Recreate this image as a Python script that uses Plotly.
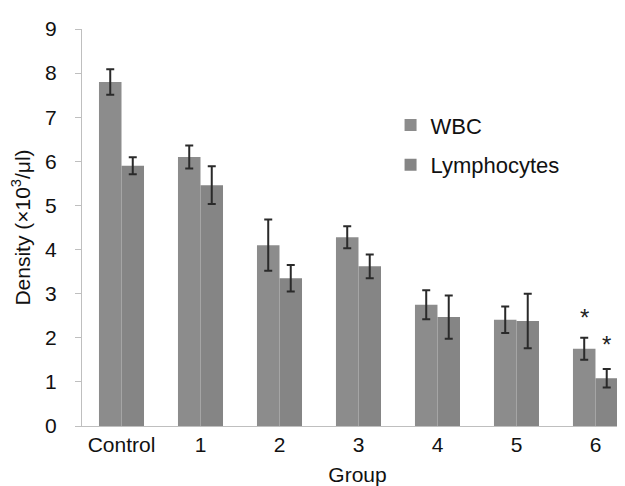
import plotly.graph_objects as go

groups = ["Control", "1", "2", "3", "4", "5", "6"]
wbc = [7.80, 6.10, 4.10, 4.28, 2.75, 2.41, 1.75]
wbc_err = [0.29, 0.26, 0.58, 0.25, 0.33, 0.30, 0.25]
lym = [5.90, 5.46, 3.35, 3.62, 2.47, 2.38, 1.08]
lym_err = [0.19, 0.43, 0.30, 0.27, 0.49, 0.62, 0.21]
y_ticks = [0, 1, 2, 3, 4, 5, 6, 7, 8, 9]

FONT = "Liberation Sans, Arial, sans-serif"

fig = go.Figure()
fig.add_trace(go.Bar(
    x=groups, y=wbc, name="WBC", legendgroup="a",
    marker=dict(color="#8c8c8c", line=dict(width=0)),
    error_y=dict(type="data", array=wbc_err, color="#2a2a2a", thickness=2, width=4),
))
fig.add_trace(go.Bar(
    x=groups, y=lym, name="Lymphocytes", legendgroup="b",
    marker=dict(color="#858585", line=dict(width=0)),
    error_y=dict(type="data", array=lym_err, color="#2a2a2a", thickness=2, width=4),
))

# significance asterisks for group 6
fig.add_annotation(x="6", y=wbc[6] + wbc_err[6], xshift=-11, yshift=5,
                   text="*", showarrow=False, yanchor="bottom",
                   font=dict(size=24, color="#222", family=FONT))
fig.add_annotation(x="6", y=lym[6] + lym_err[6], xshift=11, yshift=9,
                   text="*", showarrow=False, yanchor="bottom",
                   font=dict(size=24, color="#222", family=FONT))

fig.update_layout(
    width=625, height=486,
    margin=dict(l=74, r=0, t=21, b=68),
    paper_bgcolor="white", plot_bgcolor="white",
    barmode="group", bargap=0.43, bargroupgap=0,
    font=dict(family=FONT, size=21, color="#111111"),
    showlegend=True,
    legend=dict(x=0.56, y=0.707, xanchor="left", yanchor="middle",
                font=dict(size=22, family=FONT, color="#111111"),
                itemwidth=30, tracegroupgap=8, bgcolor="rgba(0,0,0,0)"),
    xaxis=dict(range=[-0.5, 6.475], showline=True, linecolor="#bfbfbf", linewidth=1,
               ticks="", showgrid=False, tickfont=dict(size=21),
               title=dict(text="Group", font=dict(size=21), standoff=12)),
    yaxis=dict(range=[0, 9], tickvals=y_ticks, showline=True, linecolor="#bfbfbf",
               linewidth=1, ticks="outside", ticklen=6, tickcolor="#bfbfbf",
               ticklabelstandoff=14,
               showgrid=False, zeroline=False, tickfont=dict(size=21),
               title=dict(text="Density (×10<sup>3</sup>/μl)", font=dict(size=21), standoff=10)),
)

fig.write_html("out.html")
